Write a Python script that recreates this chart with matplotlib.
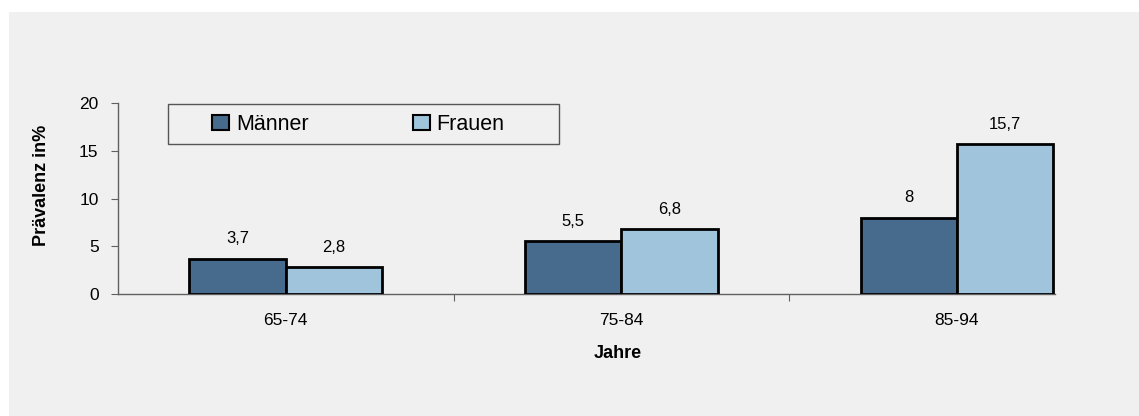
import matplotlib
matplotlib.use("Agg")
import matplotlib.pyplot as plt
from matplotlib.patches import Rectangle
import numpy as np

categories = ["65-74", "75-84", "85-94"]
maenner = [3.7, 5.5, 8.0]
frauen = [2.8, 6.8, 15.7]
maenner_labels = ["3,7", "5,5", "8"]
frauen_labels = ["2,8", "6,8", "15,7"]
yticks = [0, 5, 10, 15, 20]

plt.rcParams['font.family'] = ['Liberation Sans', 'DejaVu Sans']

W, H = 1139, 416
fig = plt.figure(figsize=(W / 100, H / 100), dpi=100)
fig.patch.set_facecolor("white")
bg = "#F0F0F0"
fig.patches.append(Rectangle((9 / W, 0), 1 - 9 / W, (H - 12) / H, transform=fig.transFigure,
                             facecolor=bg, edgecolor="none", zorder=-10))

# axes: x from 118 to 1055 px, y from 103 to 294 px (top-based)
left, right, top, bottom = 118, 1055, 103, 294
aw, ah = right - left, bottom - top
ax = fig.add_axes([left / W, 1 - bottom / H, aw / W, ah / H])
ax.set_facecolor("none")
ax.set_zorder(5)

def ax_xy(px, py):
    return (px - left) / aw, 1 - (py - top) / ah

x = np.arange(len(categories))
bw = 0.287
c_m = "#466B8C"
c_f = "#A0C4DC"
b1 = ax.bar(x - bw / 2, maenner, bw, color=c_m, edgecolor="black", linewidth=2, label="Männer", zorder=3)
b2 = ax.bar(x + bw / 2, frauen, bw, color=c_f, edgecolor="black", linewidth=2, label="Frauen", zorder=3)

for bars, labels in ((b1, maenner_labels), (b2, frauen_labels)):
    for rect, lab in zip(bars, labels):
        ax.annotate(lab, (rect.get_x() + rect.get_width() / 2, rect.get_height()), xytext=(0, 14.4),
                    textcoords="offset points", ha="center", va="center", fontsize=12, color="black")

ax.set_xlim(-0.5, (right - 286) / 335.5)
ax.set_ylim(0, 20)
ax.set_yticks(yticks)
ax.set_yticklabels([str(t) for t in yticks], fontsize=12.5)
ax.set_xticks([0.5, 1.5])
ax.set_xticklabels([])
ax.set_xticks(x, minor=True)
ax.set_xticklabels(categories, minor=True, fontsize=12.5)
ax.tick_params(axis="x", which="minor", length=0, pad=14)
ax.tick_params(axis="x", which="major", length=5, color="#606060", direction="out")
ax.tick_params(axis="y", length=5, color="#606060", direction="out", pad=9)

for s in ["top", "right"]:
    ax.spines[s].set_visible(False)
for s in ["left", "bottom"]:
    ax.spines[s].set_color("#606060")
    ax.spines[s].set_linewidth(1)

ax.set_ylabel("Prävalenz in%", fontsize=13, fontweight="bold")
ax.yaxis.set_label_coords(*ax_xy(41.5, 185))
ax.yaxis.label.set_va("center")
ax.set_xlabel("Jahre", fontsize=13, fontweight="bold")
ax.xaxis.set_label_coords(*ax_xy(617.5, 353))
ax.xaxis.label.set_va("center")

# legend frame
fx0, fy0 = ax_xy(168, 144)
fx1, fy1 = ax_xy(559, 104)
ax.add_patch(Rectangle((fx0, fy0), fx1 - fx0, fy1 - fy0, transform=ax.transAxes, clip_on=False,
                       facecolor=bg, edgecolor="#555555", linewidth=1, zorder=6))

fs = 15.5
em = fs * 100 / 72
leg = ax.legend(loc="center left", bbox_to_anchor=ax_xy(212, 124.5), ncol=2, fontsize=fs,
                frameon=False, handlelength=17 / em, handleheight=14 / em,
                handletextpad=7 / em, columnspacing=104 / em, borderpad=0, borderaxespad=0)
leg.set_zorder(7)
for h in leg.legend_handles:
    h.set_linewidth(1.5)

fig.savefig("out.png", dpi=100, facecolor=fig.get_facecolor())
